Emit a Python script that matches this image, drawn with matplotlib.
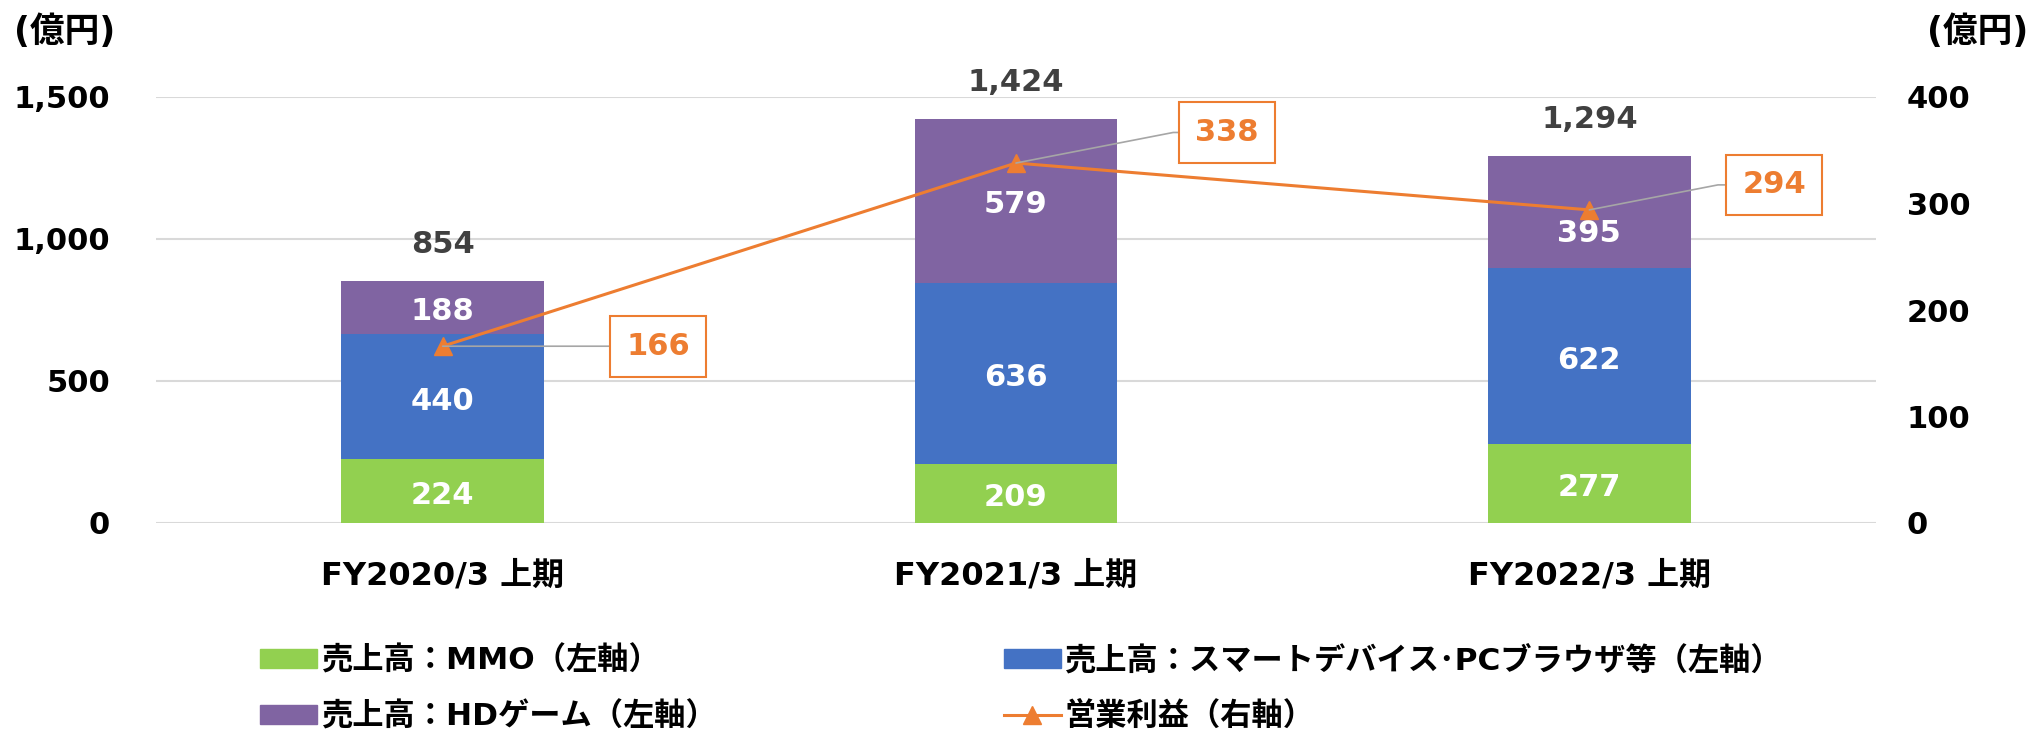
import numpy as np
import matplotlib
matplotlib.use('Agg')
import matplotlib.pyplot as plt
from matplotlib.patches import Patch
from matplotlib.lines import Line2D

plt.rcParams['font.family'] = ['DejaVu Sans', 'Noto Sans CJK JP']
plt.rcParams['font.weight'] = 'bold'

# data
periods = ['FY2020/3 上期', 'FY2021/3 上期', 'FY2022/3 上期']
mmo = [224, 209, 277]
smart = [440, 636, 622]
hd_game = [188, 579, 395]
totals = [854, 1424, 1294]
op_profit = [166, 338, 294]

series_names = ['売上高：MMO（左軸）', '売上高：スマートデバイス･PCブラウザ等（左軸）',
                '売上高：HDゲーム（左軸）', '営業利益（右軸）']
left_ticks = [0, 500, 1000, 1500]
right_ticks = [0, 100, 200, 300, 400]

GREEN = '#92D050'
BLUE = '#4472C4'
PURPLE = '#8064A2'
ORANGE = '#ED7D31'

fig = plt.figure(figsize=(20.36, 7.32), dpi=100)
ax = fig.add_axes([156 / 2036, 1 - 523 / 732, (1876 - 156) / 2036, (523 - 97) / 732])
x = np.arange(len(periods))
w = 0.354

# label nudges (points), the last purple label sits below the marker
seg_label_dy = [[-3, -3, -3], [-3, -3, -3], [-3, -3, -16]]

bottom = np.zeros(len(periods))
for k, (vals, col) in enumerate([(mmo, GREEN), (smart, BLUE), (hd_game, PURPLE)]):
    ax.bar(x, vals, w, bottom=bottom, color=col, zorder=2)
    for i, v in enumerate(vals):
        ax.annotate(str(v), xy=(x[i], bottom[i] + v / 2), xytext=(0, seg_label_dy[k][i]),
                    textcoords='offset points', ha='center', va='center',
                    color='white', fontsize=22, fontweight='bold', zorder=4)
    bottom = bottom + np.array(vals)

for i, t in enumerate(totals):
    ax.annotate(f'{t:,}', xy=(x[i], bottom[i]), xytext=(0, 26), textcoords='offset points',
                ha='center', va='center', fontsize=22, color='#404040', fontweight='bold')

ax.set_xlim(-0.5, len(periods) - 0.5)
ax.set_ylim(0, 1500)
ax.set_yticks(left_ticks)
ax.set_yticklabels([f'{v:,}' for v in left_ticks])
ax.set_xticks(x)
ax.set_xticklabels(periods, fontsize=23)
ax.tick_params(axis='y', length=0, pad=33, labelsize=22)
ax.tick_params(axis='x', length=0, pad=27)
ax.grid(axis='y', color='#D9D9D9', lw=1.5)
ax.set_axisbelow(True)
for s in ax.spines.values():
    s.set_visible(False)

ax2 = ax.twinx()
ax2.plot(x, op_profit, color=ORANGE, lw=2.2, marker='^', markersize=13, zorder=3)
ax2.set_ylim(0, 400)
ax2.set_yticks(right_ticks)
ax2.tick_params(axis='y', length=0, pad=22, labelsize=22)
for s in ax2.spines.values():
    s.set_visible(False)

# data label boxes for operating profit
box_offsets = [(155, 0), (152, 22), (133, 18)]
leader_styles = ['arc3', 'angle,angleA=0,angleB=11,rad=0', 'angle,angleA=0,angleB=11,rad=0']
for i, v in enumerate(op_profit):
    ax2.annotate(str(v), xy=(x[i], v), xytext=box_offsets[i], textcoords='offset points',
                 ha='center', va='center', fontsize=22, color=ORANGE, fontweight='bold',
                 bbox=dict(boxstyle='square,pad=0.52', fc='white', ec=ORANGE, lw=1.5),
                 arrowprops=dict(arrowstyle='-', color='#A6A6A6', lw=1.2, shrinkA=0, shrinkB=0,
                                 connectionstyle=leader_styles[i]),
                 zorder=5)

fig.text(14 / 2036, 1 - 32 / 732, '(億円)', ha='left', va='center', fontsize=25, fontweight='bold')
fig.text(2028 / 2036, 1 - 32 / 732, '(億円)', ha='right', va='center', fontsize=25, fontweight='bold')

handles = [Patch(color=GREEN), Patch(color=PURPLE), Patch(color=BLUE),
           Line2D([0], [0], color=ORANGE, lw=2.2, marker='^', markersize=13)]
labels = [series_names[0], series_names[2], series_names[1], series_names[3]]
fig.legend(handles, labels, loc='upper left', bbox_to_anchor=(260 / 2036, 1 - 645 / 732),
           ncol=2, frameon=False, fontsize=22.5, borderpad=0, borderaxespad=0,
           handlelength=1.82, handleheight=0.58, handletextpad=0.12,
           columnspacing=9.2, labelspacing=0.82)

fig.savefig('out.png', dpi=100)
